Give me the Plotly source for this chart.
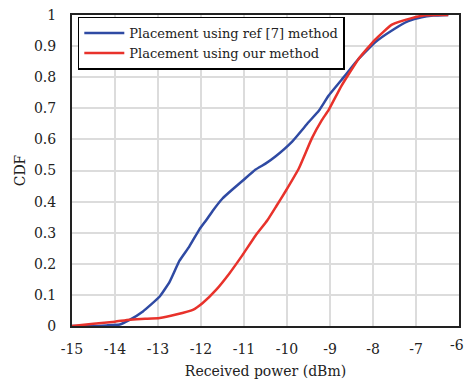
import plotly.graph_objects as go

ref_x = [-15.0, -14.55, -14.2, -13.89, -13.66, -13.35, -12.96, -12.73, -12.5, -12.27, -12.04, -11.88,
         -11.73, -11.5, -11.27, -11.04, -10.73, -10.5, -10.27, -9.88, -9.5, -9.26, -9.03, -8.65,
         -8.34, -7.95, -7.56, -7.18, -6.87, -6.6, -6.25]
ref_y = [0.0, 0.0, 0.002, 0.005, 0.02, 0.047, 0.095, 0.142, 0.21, 0.256, 0.31, 0.34,
         0.37, 0.41, 0.439, 0.466, 0.503, 0.522, 0.545, 0.593, 0.655, 0.692, 0.741, 0.805,
         0.858, 0.912, 0.95, 0.98, 0.993, 0.998, 1.0]

our_x = [-15.0, -14.5, -14.0, -13.66, -13.3, -12.96, -12.58, -12.19, -11.96, -11.65, -11.34, -11.04,
         -10.73, -10.46, -10.25, -10.03, -9.72, -9.42, -9.19, -9.03, -8.73, -8.34, -7.95, -7.56,
         -7.10, -6.79, -6.5, -6.25]
our_y = [0.0, 0.007, 0.014, 0.02, 0.023, 0.026, 0.037, 0.052, 0.074, 0.116, 0.169, 0.227,
         0.291, 0.339, 0.385, 0.434, 0.508, 0.604, 0.662, 0.695, 0.773, 0.858, 0.921, 0.969,
         0.99, 0.999, 1.0, 1.0]

x_ticks = [-15, -14, -13, -12, -11, -10, -9, -8, -7, -6]
x_labels = ["-15", "-14", "-13", "-12", "-11", "-10", "-9", "-8", "-7", "-6"]
y_ticks = [0, 0.1, 0.2, 0.3, 0.4, 0.5, 0.6, 0.7, 0.8, 0.9, 1]
y_labels = ["0", "0.1", "0.2", "0.3", "0.4", "0.5", "0.6", "0.7", "0.8", "0.9", "1"]

font = "DejaVu Serif"
txt = "#222"

fig = go.Figure()
fig.add_trace(go.Scatter(x=ref_x, y=ref_y, mode="lines", name="Placement using ref [7] method",
                         line=dict(color="#2f4aa3", width=2.5, shape="spline", smoothing=0.4)))
fig.add_trace(go.Scatter(x=our_x, y=our_y, mode="lines", name="Placement using our method",
                         line=dict(color="#e8322b", width=2.5, shape="spline", smoothing=0.4)))

# last x tick label, kept inside the page edge
fig.add_annotation(x=1.018, xref="paper", y=0, yref="paper", text=x_labels[-1],
                   showarrow=False, yanchor="top", xanchor="right", yshift=-9,
                   font=dict(family=font, size=14, color=txt))

fig.update_layout(
    width=468, height=387,
    margin=dict(l=72, r=7, t=12, b=61),
    paper_bgcolor="white", plot_bgcolor="white",
    font=dict(family=font, size=14, color=txt),
    showlegend=True,
    legend=dict(x=0.015, y=0.995, xanchor="left", yanchor="top",
                bgcolor="white", bordercolor="black", borderwidth=1.5,
                font=dict(family=font, size=13, color=txt),
                tracegroupgap=0, itemwidth=40),
    xaxis=dict(range=[-15, -6], tickvals=x_ticks[:-1], ticktext=x_labels[:-1], ticks="", showgrid=True,
               gridcolor="#dcdcdc", gridwidth=1.5, zeroline=False,
               showline=True, linecolor="#222", linewidth=2, mirror=True,
               ticklabelstandoff=9,
               tickfont=dict(family=font, size=14, color=txt),
               title=dict(text="Received power (dBm)", font=dict(family=font, size=14, color=txt), standoff=10)),
    yaxis=dict(range=[0, 1], tickvals=y_ticks, ticktext=y_labels, ticks="", showgrid=True,
               gridcolor="#dcdcdc", gridwidth=1.5, zeroline=False,
               showline=True, linecolor="#222", linewidth=2, mirror=True,
               ticklabelstandoff=11,
               tickfont=dict(family=font, size=14, color=txt),
               title=dict(text="CDF", font=dict(family=font, size=14, color=txt), standoff=5)),
)

fig.write_html("out.html", config={"displayModeBar": False},
               post_script="document.body.style.margin='0';document.body.style.overflow='hidden';")
